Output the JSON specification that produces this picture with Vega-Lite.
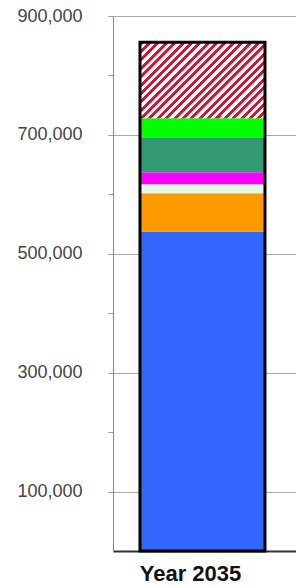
{
  "$schema": "https://vega.github.io/schema/vega-lite/v6.json",
  "width": 183,
  "height": 535,
  "autosize": {"type": "none"},
  "padding": {"left": 113, "top": 16, "right": 0, "bottom": 36},
  "background": "white",
  "config": {"view": {"stroke": null}},
  "data": {
    "values": [
      {"year": "Year 2035", "source": "A", "ord": 1, "value": 537000},
      {"year": "Year 2035", "source": "B", "ord": 2, "value": 65000},
      {"year": "Year 2035", "source": "C", "ord": 3, "value": 15000},
      {"year": "Year 2035", "source": "D", "ord": 4, "value": 20000},
      {"year": "Year 2035", "source": "E", "ord": 5, "value": 59000},
      {"year": "Year 2035", "source": "F", "ord": 6, "value": 32000},
      {"year": "Year 2035", "source": "G", "ord": 7, "value": 128000}
    ]
  },
  "encoding": {
    "x": {
      "field": "year",
      "type": "nominal",
      "scale": {"paddingInner": 0.2, "paddingOuter": 0.2, "align": 0.467},
      "axis": {
        "title": null,
        "labelAngle": 0,
        "labelFont": "Liberation Sans",
        "labelFontSize": 22,
        "labelFontWeight": "bold",
        "labelColor": "#111",
        "labelOffset": -12,
        "labelPadding": 12,
        "ticks": false,
        "domainColor": "#333",
        "domainWidth": 2
      }
    }
  },
  "layer": [
    {
      "mark": {"type": "bar", "width": 125, "strokeWidth": 0},
      "encoding": {
        "y": {
          "field": "value",
          "type": "quantitative",
          "stack": "zero",
          "scale": {"domain": [0, 900000], "nice": false},
          "axis": {
            "title": null,
            "values": [100000, 200000, 300000, 400000, 500000, 600000, 700000, 800000, 900000],
            "format": ",d",
            "labelExpr": "datum.value % 200000 === 0 ? '' : datum.label",
            "labelFont": "Liberation Sans",
            "labelFontSize": 18,
            "labelColor": "#444",
            "labelPadding": 26,
            "tickSize": 5,
            "tickColor": "#999",
            "domainColor": "#888",
            "grid": true,
            "gridColor": "#a8a8a8",
            "gridOpacity": {"condition": {"test": "datum.value % 200000 === 0", "value": 0}, "value": 1}
          }
        },
        "order": {"field": "ord", "type": "quantitative"},
        "fill": {
          "condition": {
            "test": "datum.source === 'G'",
            "value": {
              "gradient": "linear",
              "x1": 0, "y1": 0, "x2": 1.174, "y2": 0.714,
              "stops": [
                {"offset": 0, "color": "#dd1133"}, {"offset": 0.02, "color": "#dd1133"}, {"offset": 0.02, "color": "#ffffff"}, {"offset": 0.04167, "color": "#ffffff"},
                {"offset": 0.04167, "color": "#dd1133"}, {"offset": 0.06167, "color": "#dd1133"}, {"offset": 0.06167, "color": "#ffffff"}, {"offset": 0.08333, "color": "#ffffff"},
                {"offset": 0.08333, "color": "#dd1133"}, {"offset": 0.10333, "color": "#dd1133"}, {"offset": 0.10333, "color": "#ffffff"}, {"offset": 0.125, "color": "#ffffff"},
                {"offset": 0.125, "color": "#dd1133"}, {"offset": 0.145, "color": "#dd1133"}, {"offset": 0.145, "color": "#ffffff"}, {"offset": 0.16667, "color": "#ffffff"},
                {"offset": 0.16667, "color": "#dd1133"}, {"offset": 0.18667, "color": "#dd1133"}, {"offset": 0.18667, "color": "#ffffff"}, {"offset": 0.20833, "color": "#ffffff"},
                {"offset": 0.20833, "color": "#dd1133"}, {"offset": 0.22833, "color": "#dd1133"}, {"offset": 0.22833, "color": "#ffffff"}, {"offset": 0.25, "color": "#ffffff"},
                {"offset": 0.25, "color": "#dd1133"}, {"offset": 0.27, "color": "#dd1133"}, {"offset": 0.27, "color": "#ffffff"}, {"offset": 0.29167, "color": "#ffffff"},
                {"offset": 0.29167, "color": "#dd1133"}, {"offset": 0.31167, "color": "#dd1133"}, {"offset": 0.31167, "color": "#ffffff"}, {"offset": 0.33333, "color": "#ffffff"},
                {"offset": 0.33333, "color": "#dd1133"}, {"offset": 0.35333, "color": "#dd1133"}, {"offset": 0.35333, "color": "#ffffff"}, {"offset": 0.375, "color": "#ffffff"},
                {"offset": 0.375, "color": "#dd1133"}, {"offset": 0.395, "color": "#dd1133"}, {"offset": 0.395, "color": "#ffffff"}, {"offset": 0.41667, "color": "#ffffff"},
                {"offset": 0.41667, "color": "#dd1133"}, {"offset": 0.43667, "color": "#dd1133"}, {"offset": 0.43667, "color": "#ffffff"}, {"offset": 0.45833, "color": "#ffffff"},
                {"offset": 0.45833, "color": "#dd1133"}, {"offset": 0.47833, "color": "#dd1133"}, {"offset": 0.47833, "color": "#ffffff"}, {"offset": 0.5, "color": "#ffffff"},
                {"offset": 0.5, "color": "#dd1133"}, {"offset": 0.52, "color": "#dd1133"}, {"offset": 0.52, "color": "#ffffff"}, {"offset": 0.54167, "color": "#ffffff"},
                {"offset": 0.54167, "color": "#dd1133"}, {"offset": 0.56167, "color": "#dd1133"}, {"offset": 0.56167, "color": "#ffffff"}, {"offset": 0.58333, "color": "#ffffff"},
                {"offset": 0.58333, "color": "#dd1133"}, {"offset": 0.60333, "color": "#dd1133"}, {"offset": 0.60333, "color": "#ffffff"}, {"offset": 0.625, "color": "#ffffff"},
                {"offset": 0.625, "color": "#dd1133"}, {"offset": 0.645, "color": "#dd1133"}, {"offset": 0.645, "color": "#ffffff"}, {"offset": 0.66667, "color": "#ffffff"},
                {"offset": 0.66667, "color": "#dd1133"}, {"offset": 0.68667, "color": "#dd1133"}, {"offset": 0.68667, "color": "#ffffff"}, {"offset": 0.70833, "color": "#ffffff"},
                {"offset": 0.70833, "color": "#dd1133"}, {"offset": 0.72833, "color": "#dd1133"}, {"offset": 0.72833, "color": "#ffffff"}, {"offset": 0.75, "color": "#ffffff"},
                {"offset": 0.75, "color": "#dd1133"}, {"offset": 0.77, "color": "#dd1133"}, {"offset": 0.77, "color": "#ffffff"}, {"offset": 0.79167, "color": "#ffffff"},
                {"offset": 0.79167, "color": "#dd1133"}, {"offset": 0.81167, "color": "#dd1133"}, {"offset": 0.81167, "color": "#ffffff"}, {"offset": 0.83333, "color": "#ffffff"},
                {"offset": 0.83333, "color": "#dd1133"}, {"offset": 0.85333, "color": "#dd1133"}, {"offset": 0.85333, "color": "#ffffff"}, {"offset": 0.875, "color": "#ffffff"},
                {"offset": 0.875, "color": "#dd1133"}, {"offset": 0.895, "color": "#dd1133"}, {"offset": 0.895, "color": "#ffffff"}, {"offset": 0.91667, "color": "#ffffff"},
                {"offset": 0.91667, "color": "#dd1133"}, {"offset": 0.93667, "color": "#dd1133"}, {"offset": 0.93667, "color": "#ffffff"}, {"offset": 0.95833, "color": "#ffffff"},
                {"offset": 0.95833, "color": "#dd1133"}, {"offset": 0.97833, "color": "#dd1133"}, {"offset": 0.97833, "color": "#ffffff"}, {"offset": 1, "color": "#ffffff"}
              ]
            }
          },
          "field": "source",
          "type": "nominal",
          "scale": {
            "domain": ["A", "B", "C", "D", "E", "F", "G"],
            "range": ["#3366ff", "#ff9900", "#e6f8e6", "#ff00ff", "#339970", "#00ff00", "#ffffff"]
          },
          "legend": null
        }
      }
    },
    {
      "transform": [
        {"aggregate": [{"op": "sum", "field": "value", "as": "total"}], "groupby": ["year"]}
      ],
      "mark": {"type": "bar", "width": 125, "fill": null, "fillOpacity": 0, "stroke": "#000000", "strokeWidth": 3},
      "encoding": {
        "y": {"field": "total", "type": "quantitative"}
      }
    }
  ]
}
